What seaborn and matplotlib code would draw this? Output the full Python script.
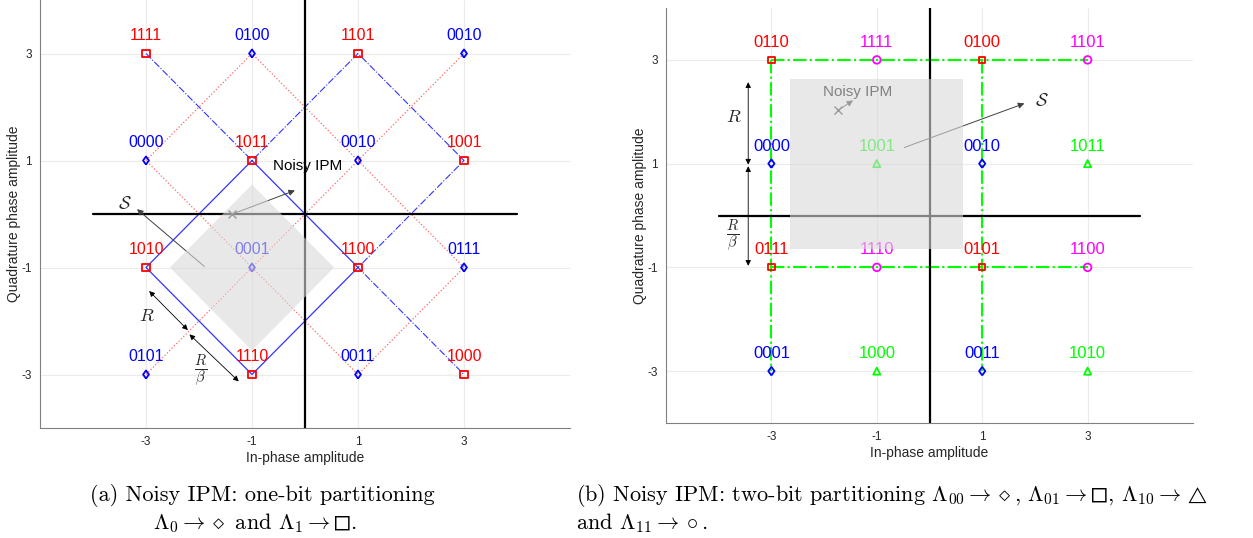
import matplotlib
matplotlib.use("Agg")
import matplotlib.pyplot as plt
import seaborn as sns
import pandas as pd
from matplotlib.patches import Polygon

# ------------------------------------------------------------
# data
# ------------------------------------------------------------
levels = [-3, -1, 1, 3]
tick_labels = ["-3", "-1", "1", "3"]
rows_y = [3, 1, -1, -3]

# (a) one-bit partitioning, rows top -> bottom
bits_a = [["1111", "0100", "1101", "0010"],
          ["0000", "1011", "0010", "1001"],
          ["1010", "0001", "1100", "0111"],
          ["0101", "1110", "0011", "1000"]]
subset_a = [["1", "0", "1", "0"],
            ["0", "1", "0", "1"],
            ["1", "0", "1", "0"],
            ["0", "1", "0", "1"]]

# (b) two-bit partitioning
bits_b = [["0110", "1111", "0100", "1101"],
          ["0000", "1001", "0010", "1011"],
          ["0111", "1110", "0101", "1100"],
          ["0001", "1000", "0011", "1010"]]
subset_b = [["01", "11", "01", "11"],
            ["00", "10", "00", "10"],
            ["01", "11", "01", "11"],
            ["00", "10", "00", "10"]]

# lattice lines (vertex lists)
a_square = [(-1, 1), (1, -1), (-1, -3), (-3, -1), (-1, 1)]
a_dashdot = [(-3, 3), (-1, 1), (1, 3), (3, 1), (1, -1), (3, -3)]
a_dotted = [[(-3, 1), (-1, 3), (3, -1), (1, -3), (-3, 1)],
            [(-3, -3), (3, 3)]]
b_green = [[(-3, 3), (3, 3)], [(-3, -1), (3, -1)],
           [(-3, 3), (-3, -3)], [(1, 3), (1, -3)]]

# noisy region / IPM
a_region_center, a_region_half = (-1, -1), 1.55
b_region_center, b_region_half = (-1, 1), 1.64
a_ipm, b_ipm = (-1.37, 0.0), (-1.73, 2.03)

# MATLAB-like diamond (a bit wider than mpl's thin diamond)
diamond = [(0, -1), (0.72, 0), (0, 1), (-0.72, 0), (0, -1)]

style_a = {"0": (diamond, "#0000ff", 34), "1": ("s", "#ff0000", 30)}
style_b = {"00": (diamond, "#0000ff", 38), "01": ("s", "#ff0000", 20),
           "10": ("^", "#00ff00", 26), "11": ("o", "#ff00ff", 30)}


def make_frame(bits, subset):
    recs = []
    for i, y in enumerate(rows_y):
        for j, x in enumerate(levels):
            recs.append({"x": x, "y": y, "bits": bits[i][j], "set": subset[i][j]})
    return pd.DataFrame(recs)


def draw_path(ax, pts, color, ls, lw):
    df = pd.DataFrame(pts, columns=["x", "y"])
    sns.lineplot(data=df, x="x", y="y", sort=False, estimator=None,
                 color=color, linestyle=ls, linewidth=lw, ax=ax, zorder=2)


def base_axes(ax):
    ax.set_xlim(-5, 5)
    ax.set_ylim(-4, 4)
    ax.set_xticks(levels, tick_labels)
    ax.set_yticks(levels, tick_labels)
    ax.grid(True, color="0.92", lw=0.8)
    ax.set_axisbelow(True)
    for s in ["top", "right"]:
        ax.spines[s].set_visible(False)
    for s in ["left", "bottom"]:
        ax.spines[s].set_color("0.5")
        ax.spines[s].set_linewidth(0.8)
    ax.tick_params(direction="in", length=3, color="0.5", labelcolor="0.15",
                   labelsize=8.5, pad=6)
    ax.set_xlabel("In-phase amplitude", fontsize=10, color="0.15", labelpad=2)
    ax.set_ylabel("Quadrature phase amplitude", fontsize=10, color="0.15", labelpad=0)
    ax.plot([-4, 4], [0, 0], color="black", lw=1.6, zorder=3)
    ax.axvline(0, color="black", lw=1.6, zorder=3)


def draw_points(ax, df, styles, fs):
    for key, grp in df.groupby("set"):
        m, c, s = styles[key]
        sns.scatterplot(data=grp, x="x", y="y", marker=m, s=s, color=c,
                        facecolor="none", edgecolor=c, linewidth=1.3,
                        ax=ax, zorder=4, legend=False)
        for _, r in grp.iterrows():
            ax.text(r.x, r.y + 0.25, r.bits, color=c, fontsize=fs,
                    ha="center", va="baseline", zorder=4)


sns.set_theme(style="white")
plt.rcParams["font.family"] = ["Liberation Sans", "DejaVu Sans"]
plt.rcParams["mathtext.fontset"] = "cm"

W, H = 1253, 538
fig = plt.figure(figsize=(W / 100, H / 100), dpi=100)
ax1 = fig.add_axes([40 / W, 110 / H, 530 / W, 428 / H])
ax2 = fig.add_axes([666 / W, 115 / H, 527 / W, 415 / H])

arrow_kw = dict(arrowstyle="-|>", color="0.25", lw=0.7, mutation_scale=9,
                shrinkA=0, shrinkB=0)
dbl_kw = dict(arrowstyle="<|-|>", color="black", lw=0.6, mutation_scale=8,
              shrinkA=0, shrinkB=0)

# ---------------- (a) ----------------
base_axes(ax1)
for seg in a_dotted:
    draw_path(ax1, seg, "#ff6666", ":", 0.9)
draw_path(ax1, a_dashdot, "#3333ff", "-.", 0.8)
draw_path(ax1, a_square, "#3333ff", "-", 0.9)
draw_points(ax1, make_frame(bits_a, subset_a), style_a, 11.5)

cx, cy = a_region_center
h = a_region_half
ax1.add_patch(Polygon([(cx - h, cy), (cx, cy + h), (cx + h, cy), (cx, cy - h)],
                      closed=True, fc="0.85", ec="none", alpha=0.6, zorder=10))
ax1.plot(*a_ipm, marker="x", color="0.25", ms=6, mew=1, zorder=5)
ax1.annotate("", xy=(-0.19, 0.44), xytext=a_ipm, arrowprops=arrow_kw, zorder=5)
ax1.text(-0.6, 0.9, "Noisy IPM", fontsize=11, color="black", va="center", zorder=5)
ax1.annotate("", xy=(-3.17, 0.09), xytext=(-1.9, -0.98), arrowprops=arrow_kw, zorder=5)
ax1.text(-3.4, 0.18, r"$\mathcal{S}$", fontsize=13, ha="center", va="center")
ax1.annotate("", xy=(-2.94, -1.44), xytext=(-2.21, -2.17), arrowprops=dbl_kw)
ax1.annotate("", xy=(-2.18, -2.25), xytext=(-1.25, -3.13), arrowprops=dbl_kw)
ax1.text(-2.99, -1.91, r"$R$", fontsize=13, ha="center", va="center")
ax1.text(-1.98, -2.94, r"$\frac{R}{\beta}$", fontsize=15, ha="center", va="center")

# ---------------- (b) ----------------
base_axes(ax2)
for seg in b_green:
    draw_path(ax2, seg, "#00ff00", "-.", 1.5)
draw_points(ax2, make_frame(bits_b, subset_b), style_b, 12)

cx, cy = b_region_center
h = b_region_half
ax2.add_patch(Polygon([(cx - h, cy - h), (cx - h, cy + h), (cx + h, cy + h), (cx + h, cy - h)],
                      closed=True, fc="0.85", ec="none", alpha=0.6, zorder=10))
ax2.plot(*b_ipm, marker="x", color="0.25", ms=6, mew=1, zorder=5)
ax2.annotate("", xy=(-1.45, 2.22), xytext=b_ipm, arrowprops=arrow_kw, zorder=5)
ax2.text(-1.37, 2.38, "Noisy IPM", fontsize=11, color="black", ha="center",
         va="center", zorder=5)
ax2.annotate("", xy=(1.8, 2.16), xytext=(-0.48, 1.31), arrowprops=arrow_kw, zorder=5)
ax2.text(2.14, 2.2, r"$\mathcal{S}$", fontsize=13, ha="center", va="center")
ax2.annotate("", xy=(-3.44, 2.57), xytext=(-3.44, 0.98), arrowprops=dbl_kw)
ax2.annotate("", xy=(-3.44, 0.95), xytext=(-3.44, -0.97), arrowprops=dbl_kw)
ax2.text(-3.72, 1.88, r"$R$", fontsize=13, ha="center", va="center")
ax2.text(-3.74, -0.39, r"$\frac{R}{\beta}$", fontsize=15, ha="center", va="center")

# ---------------- captions ----------------
cap = dict(family="cmr10", fontsize=16, color="black", va="baseline")
line1_y, line2_y = 1 - 501 / H, 1 - 529 / H
fig.text(262 / W, line1_y, "(a) Noisy IPM: one-bit partitioning", ha="center", **cap)
fig.text(255 / W, line2_y,
         r"$\Lambda_0 \rightarrow \diamond$ and $\Lambda_1 \rightarrow ◻$.",
         ha="center", **cap)
tb = fig.text(576 / W, line1_y,
              r"(b) Noisy IPM: two-bit partitioning $\Lambda_{00} \rightarrow \diamond$, "
              r"$\Lambda_{01} \rightarrow ◻$, $\Lambda_{10} \rightarrow$",
              ha="left", **cap)
fig.text(576 / W, line2_y, r"and $\Lambda_{11} \rightarrow \circ$.", ha="left", **cap)

# the triangle is set smaller, right after the arrow
bb = tb.get_window_extent(renderer=fig.canvas.get_renderer())
fig.text((bb.x1 + 4) / W, line1_y, r"$\triangle$", ha="left",
         **{**cap, "fontsize": 12})

fig.savefig("out.png", dpi=100)
